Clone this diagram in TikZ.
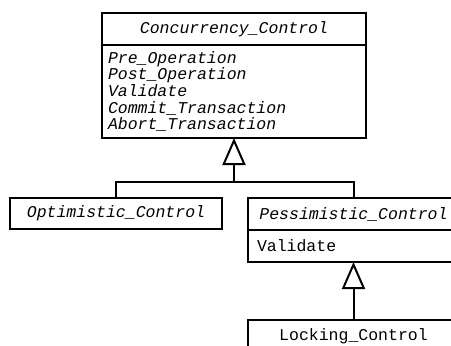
\documentclass[tikz,border=0pt]{standalone}
\usepackage{fontspec}
\setmonofont{Liberation Mono}
\usetikzlibrary{shapes,positioning,calc,arrows.meta}

\begin{document}
\begin{tikzpicture}
  [x=1pt,y=-1pt,
   line width=2pt,
   font=\ttfamily\itshape\fontsize{16.5}{16.7}\selectfont,
   clsHead/.style={draw,minimum height=32pt,inner sep=0pt,outer sep=0pt},
   clsBody/.style={draw,inner xsep=6pt,inner ysep=0pt,outer sep=0pt,align=left},
   isA/.style={-{Triangle[open,length=27pt,width=23pt]}},
  ]
 \useasboundingbox (0,0) rectangle (451,346);
 \clip (0,0) rectangle (451,346);

 % parent class
 \node[clsHead,minimum width=264pt,line width=2.6pt] (ccHead) at (234,29) {Concurrency\_Control};
 \node[clsBody,text width=252pt,minimum height=93pt,line width=2.6pt,below=0pt of ccHead] (ccBody)
   {Pre\_Operation\\Post\_Operation\\Validate\\Commit\_Transaction\\Abort\_Transaction};

 % subclasses
 \node[clsHead,minimum width=212pt,minimum height=31pt] (optHead) at (116,213.5) {Optimistic\_Control};
 \node[clsHead,minimum width=211pt] (pesHead) at (353.5,214) {Pessimistic\_Control};
 \node[clsBody,text width=193pt,inner xsep=9pt,minimum height=32pt,below=0pt of pesHead] (pesBody) {\upshape Validate};
 \node[clsHead,minimum width=211pt] (lockHead) at (353.5,336) {\upshape Locking\_Control};

 % generalisation
 \coordinate (join) at (234,182);
 \draw (optHead.north) |- (join);
 \draw (pesHead.north) |- (join);
 \draw[isA] (join) -- (ccBody.south);
 \draw[isA] (lockHead.north) -- (pesBody.south);
\end{tikzpicture}
\end{document}
